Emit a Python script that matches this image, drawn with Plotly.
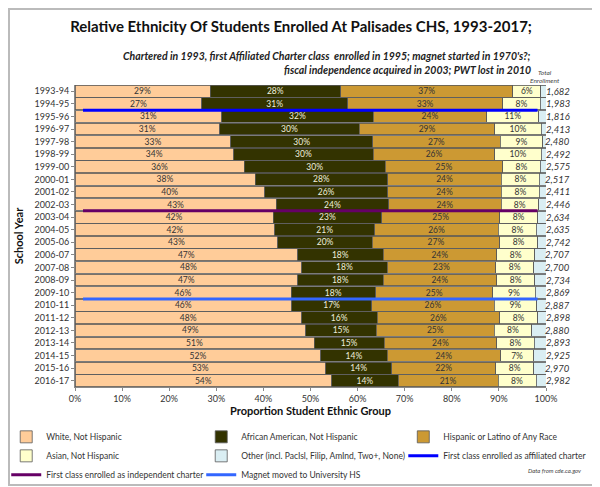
import plotly.graph_objects as go

years = ["1993-94", "1994-95", "1995-96", "1996-97", "1997-98", "1998-99", "1999-00",
         "2000-01", "2001-02", "2002-03", "2003-04", "2004-05", "2005-06", "2006-07",
         "2007-08", "2008-09", "2009-10", "2010-11", "2011-12", "2012-13", "2013-14",
         "2014-15", "2015-16", "2016-17"]
white = [29, 27, 31, 31, 33, 34, 36, 38, 40, 43, 42, 42, 43, 47, 48, 47, 46, 46, 48, 49, 51, 52, 53, 54]
african_american = [28, 31, 32, 30, 30, 30, 30, 28, 26, 24, 23, 21, 20, 18, 18, 18, 18, 17, 16, 15, 15, 14, 14, 14]
hispanic = [37, 33, 24, 29, 27, 26, 25, 24, 24, 24, 25, 26, 27, 24, 23, 24, 25, 26, 26, 25, 24, 24, 22, 21]
asian = [6, 8, 11, 10, 9, 10, 8, 8, 8, 8, 8, 8, 8, 8, 8, 8, 9, 9, 8, 8, 8, 7, 8, 8]
other = [1.1, 1.2, 1.5, 1.0, 0.7, 1.0, 1.2, 1.4, 1.4, 1.6, 1.8, 2.0, 1.8, 2.4, 2.6, 2.4, 2.3, 2.0, 1.8, 3.0, 2.5, 2.6, 2.6, 2.1]
totals = ["1,682", "1,983", "1,816", "2,413", "2,480", "2,492", "2,575", "2,517", "2,411", "2,446",
          "2,634", "2,635", "2,742", "2,707", "2,700", "2,734", "2,869", "2,887", "2,898", "2,880",
          "2,893", "2,925", "2,970", "2,982"]

# event lines drawn between two school years (after the named row)
event_names = ["First class enrolled as affiliated charter",
               "First class enrolled as independent charter",
               "Magnet moved to University HS"]
event_after = ["1994-95", "2002-03", "2009-10"]
event_colors = ["#0000FF", "#660066", "#3366FF"]
event_span = [1.7, 98.2]

FONT = "Lato"
ypos = list(range(len(years)))

fig = go.Figure()

# legend column for each trace (3 legend columns like the original)
groups = [
    ("White, Not Hispanic", white, "#FFCC99", "#333333", True, "legend"),
    ("African American, Not Hispanic", african_american, "#333300", "#EEEEDD", True, "legend2"),
    ("Hispanic or Latino of Any Race", hispanic, "#CC9933", "#333333", True, "legend3"),
    ("Asian, Not Hispanic", asian, "#FFFFCC", "#333333", True, "legend"),
    ("Other (incl. PacIsl, Filip, AmInd, Two+, None)", other, "#DAEEF3", "#333333", False, "legend2"),
]
for name, vals, color, tcolor, show_text, leg in groups:
    fig.add_trace(go.Bar(
        y=ypos, x=vals, name=name, orientation="h", legend=leg,
        marker=dict(color=color, line=dict(color="#595959", width=0.8)),
        text=[f"{v}%" for v in vals] if show_text else None,
        textposition="inside" if show_text else "none",
        insidetextanchor="middle", textangle=0,
        textfont=dict(family=FONT, size=8.5, color=tcolor),
        hoverinfo="x+name",
    ))

event_legends = ["legend3", "legend", "legend2"]
for name, after, color, leg in zip(event_names, event_after, event_colors, event_legends):
    yl = years.index(after) + 0.5
    fig.add_trace(go.Scatter(
        x=event_span, y=[yl, yl], mode="lines", name=name, legend=leg,
        line=dict(color=color, width=3),
    ))

for i, t in enumerate(totals):
    fig.add_annotation(x=1.055, xref="paper", y=i, yref="y", text=f"<i>{t}</i>",
                       showarrow=False, xanchor="right", font=dict(family=FONT, size=9.5, color="#333333"))

fig.add_annotation(x=1.034, xref="paper", y=0.997, yref="paper", yanchor="bottom",
                   text="<i>Total<br>Enrollment</i>",
                   showarrow=False, font=dict(family=FONT, size=6.5, color="#444444"))
fig.add_annotation(x=0.972, xref="paper", y=1.123, yref="paper", xanchor="right",
                   text="<b><i>Chartered in 1993, first Affiliated Charter class  enrolled in 1995; magnet started in 1970's?;</i></b>",
                   showarrow=False, font=dict(family=FONT, size=10.5, color="#222222"))
fig.add_annotation(x=0.972, xref="paper", y=1.076, yref="paper", xanchor="right",
                   text="<b><i>fiscal independence acquired in 2003; PWT lost in 2010</i></b>",
                   showarrow=False, font=dict(family=FONT, size=10.5, color="#222222"))
fig.add_annotation(x=1.079, xref="paper", y=-0.295, yref="paper", xanchor="right",
                   text="<i>Data from cde.ca.gov</i>",
                   showarrow=False, font=dict(family=FONT, size=6, color="#444444"))

legend_style = dict(orientation="v", xanchor="left", y=-0.117, yanchor="top", traceorder="normal",
                    font=dict(family=FONT, size=8.5, color="#333333"), itemwidth=30,
                    bgcolor="rgba(0,0,0,0)")

fig.update_layout(
    width=592, height=479,
    barmode="stack", barnorm="percent", bargap=0.06,
    uniformtext=dict(minsize=8.5, mode="show"),
    title=dict(text="<b>Relative Ethnicity Of Students Enrolled At Palisades CHS, 1993-2017;</b>",
               x=0.495, xanchor="center", y=0.960, yanchor="middle",
               font=dict(family=FONT, size=15, color="#111111")),
    font=dict(family=FONT, size=9, color="#333333"),
    margin=dict(l=67, r=54, t=77, b=100, autoexpand=False),
    plot_bgcolor="white", paper_bgcolor="white",
    xaxis=dict(range=[0, 100], dtick=10, ticksuffix="%", showgrid=False, zeroline=False,
               showline=True, linecolor="#888888", ticks="outside", ticklen=3, tickcolor="#888888",
               title=dict(text="<b>Proportion Student Ethnic Group</b>", standoff=4,
                          font=dict(family=FONT, size=11, color="#111111"))),
    yaxis=dict(range=[23.5, -0.5], tickvals=ypos, ticktext=years, showgrid=False, zeroline=False,
               showline=True, linecolor="#888888", ticks="outside", ticklen=3, tickcolor="#888888",
               title=dict(text="<b>School Year</b>", standoff=8,
                          font=dict(family=FONT, size=11, color="#111111"))),
    legend=dict(x=-0.146, **legend_style),
    legend2=dict(x=0.268, **legend_style),
    legend3=dict(x=0.697, **legend_style),
    shapes=[dict(type="rect", xref="paper", yref="paper",
                 x0=-66 / 471, x1=(590 - 67) / 471, y0=(379 - 477) / 302, y1=(379 - 1) / 302,
                 line=dict(color="#BBBBBB", width=2), fillcolor="rgba(0,0,0,0)", layer="below")],
)

fig.write_html("out.html")
